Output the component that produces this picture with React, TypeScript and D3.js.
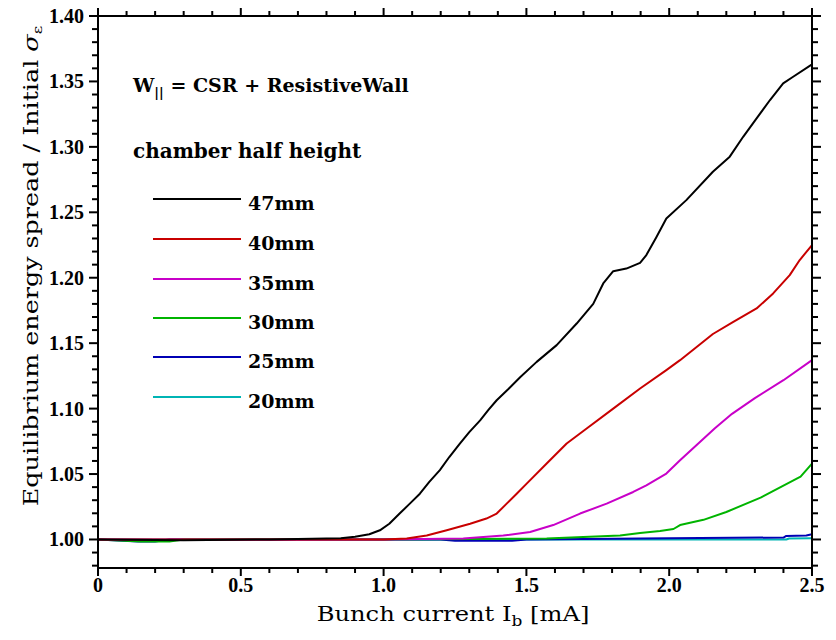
import React from "react";
import * as d3 from "d3";

// Bunch current [mA] vs. equilibrium / initial energy spread, one list per chamber half height
const h47: [number, number][] = [
  [0, 1.0], [0.3, 0.9995], [0.6, 1.0], [0.85, 1.001], [0.9, 1.002], [0.95, 1.004],
  [0.987, 1.007], [1.02, 1.012], [1.057, 1.02], [1.09, 1.027], [1.127, 1.035],
  [1.16, 1.044], [1.197, 1.053], [1.23, 1.063], [1.267, 1.0733], [1.3, 1.082],
  [1.338, 1.091], [1.367, 1.099], [1.396, 1.1064], [1.437, 1.115], [1.478, 1.124],
  [1.536, 1.1357], [1.606, 1.1485], [1.676, 1.165], [1.734, 1.18], [1.769, 1.1956],
  [1.804, 1.205], [1.85, 1.207], [1.898, 1.2114], [1.92, 1.2173], [1.955, 1.231],
  [1.99, 1.2453], [2.06, 1.2593], [2.153, 1.281], [2.212, 1.2925], [2.259, 1.3077],
  [2.306, 1.3218], [2.353, 1.3358], [2.399, 1.3485], [2.434, 1.3536], [2.5, 1.363],
];
const h40: [number, number][] = [
  [0, 1.0], [0.5, 1.0], [1.0, 1.0], [1.081, 1.0007], [1.151, 1.003], [1.221, 1.007],
  [1.303, 1.012], [1.36, 1.016], [1.396, 1.0198], [1.431, 1.0274], [1.466, 1.035],
  [1.501, 1.0427], [1.571, 1.058], [1.641, 1.0733], [1.711, 1.0848], [1.804, 1.1],
  [1.898, 1.1154], [1.99, 1.1294], [2.038, 1.137], [2.153, 1.157], [2.223, 1.166],
  [2.306, 1.1765], [2.364, 1.188], [2.422, 1.202], [2.457, 1.2135], [2.5, 1.225],
];
const h35: [number, number][] = [
  [0, 1.0], [0.6, 0.9998], [1.0, 1.0], [1.279, 1.0007], [1.419, 1.003], [1.513, 1.0057],
  [1.594, 1.011], [1.688, 1.0198], [1.781, 1.0274], [1.874, 1.0363], [1.92, 1.0414],
  [1.99, 1.0504], [2.038, 1.0605], [2.1, 1.073], [2.16, 1.085], [2.22, 1.096],
  [2.3, 1.108], [2.4, 1.1217], [2.5, 1.137],
];
const h30: [number, number][] = [
  [0, 1.0], [0.15, 0.9985], [0.25, 0.9985], [0.3, 1.0], [1.0, 1.0], [1.571, 1.0007],
  [1.828, 1.003], [1.898, 1.005], [1.968, 1.0065], [2.015, 1.008], [2.038, 1.011],
  [2.12, 1.015], [2.2, 1.021], [2.32, 1.032], [2.46, 1.048], [2.5, 1.058],
];
const h25: [number, number][] = [
  [0, 1.0], [0.14, 0.9985], [0.2, 0.9985], [0.25, 1.0], [1.2, 1.0], [1.25, 0.999],
  [1.45, 0.999], [1.5, 1.0], [2.0, 1.001], [2.4, 1.0015], [2.41, 1.0027],
  [2.48, 1.003], [2.5, 1.004],
];
const h20: [number, number][] = [
  [0, 1.0], [2.41, 1.0], [2.42, 1.0007], [2.5, 1.001],
];

const seriesNames = ["47mm", "40mm", "35mm", "30mm", "25mm", "20mm"];
const seriesData = [h47, h40, h35, h30, h25, h20];
const seriesColors = ["#000000", "#c80000", "#c800c8", "#00b400", "#0000b4", "#00b4b4"];

const xMajorTicks = [0, 0.5, 1.0, 1.5, 2.0, 2.5];
const xTickLabels = ["0", "0.5", "1.0", "1.5", "2.0", "2.5"];
const yMajorTicks = [1.0, 1.05, 1.1, 1.15, 1.2, 1.25, 1.3, 1.35, 1.4];
const yTickLabels = ["1.00", "1.05", "1.10", "1.15", "1.20", "1.25", "1.30", "1.35", "1.40"];

const W = 836;
const H = 640;
const left = 98;
const right = 812;
const top = 16;
const bottom = 568;

export default function App() {
  const x = d3.scaleLinear().domain([0, 2.5]).range([left, right]);
  const y = d3.scaleLinear().domain([0.9782, 1.4]).range([bottom, top]);

  const line = d3
    .line<[number, number]>()
    .x((d) => x(d[0]))
    .y((d) => y(d[1]));

  const xMinor = d3.range(0, 26).map((i) => i / 10);
  const yMinor = d3.range(98, 141).map((i) => i / 100);
  const isMajorX = (v: number) => Math.abs(v * 2 - Math.round(v * 2)) < 1e-6;
  const isMajorY = (v: number) => Math.abs(v * 20 - Math.round(v * 20)) < 1e-6;

  const tickFont = "'Liberation Serif', serif";
  const textFont = "'DejaVu Serif', serif";

  const legendRows = [199, 239, 279, 318, 357, 397];

  return (
    <svg
      width={W}
      height={H}
      style={{ position: "absolute", left: 0, top: 0, background: "#fff" }}
    >
      <rect x={0} y={0} width={W} height={H} fill="#fff" />

      {/* curves */}
      <g fill="none" strokeWidth={2} strokeLinejoin="round">
        {seriesData
          .map((d, i) => ({ d, i }))
          .reverse()
          .map(({ d, i }) => (
            <path key={seriesNames[i]} d={line(d) ?? ""} stroke={seriesColors[i]} />
          ))}
      </g>

      {/* frame */}
      <rect
        x={left}
        y={top}
        width={right - left}
        height={bottom - top}
        fill="none"
        stroke="#000"
        strokeWidth={2}
      />

      {/* ticks on all four sides, pointing outward */}
      <g stroke="#000" strokeWidth={2}>
        {xMinor.map((v) => {
          const len = isMajorX(v) ? 8 : 5;
          return (
            <g key={"xt" + v}>
              <line x1={x(v)} x2={x(v)} y1={bottom} y2={bottom + len} />
              <line x1={x(v)} x2={x(v)} y1={top} y2={top - len} />
            </g>
          );
        })}
        {yMinor.map((v) => {
          const len = isMajorY(v) ? 9 : 6;
          return (
            <g key={"yt" + v}>
              <line x1={left} x2={left - len} y1={y(v)} y2={y(v)} />
              <line x1={right} x2={right + len} y1={y(v)} y2={y(v)} />
            </g>
          );
        })}
      </g>

      {/* tick labels */}
      <g fontFamily={tickFont} fontWeight="bold" fontSize={20} fill="#000">
        {xMajorTicks.map((v, i) => (
          <text key={"xl" + v} x={x(v)} y={592} textAnchor="middle">
            {xTickLabels[i]}
          </text>
        ))}
        {yMajorTicks.map((v, i) => (
          <text key={"yl" + v} x={84} y={y(v)} dy="0.35em" textAnchor="end">
            {yTickLabels[i]}
          </text>
        ))}
      </g>

      {/* axis titles (wide lettering: stretched along the text direction) */}
      <text
        transform="translate(453,621) scale(1.21,1)"
        textAnchor="middle"
        fontFamily={textFont}
        fontSize={20}
        fill="#000"
      >
        Bunch current{"  "}I
        <tspan fontSize={14} dy={5}>b</tspan>
        <tspan dy={-5}> [mA]</tspan>
      </text>
      <text
        transform="translate(38,266) rotate(-90) scale(1.27,1)"
        textAnchor="middle"
        fontFamily={textFont}
        fontSize={20}
        fill="#000"
      >
        Equilibrium energy spread / Initial <tspan fontStyle="italic">σ</tspan>
        <tspan fontSize={13} dy={4}>ε</tspan>
      </text>

      {/* annotations and legend */}
      <g fontFamily={textFont} fontWeight="bold" fill="#000">
        <text x={133} y={92} fontSize={19}>
          W<tspan fontSize={13} dy={5}>||</tspan>
          <tspan dy={-5}> = CSR + ResistiveWall</tspan>
        </text>
        <text x={133} y={158} fontSize={20}>
          chamber half height
        </text>
        {seriesNames.map((name, i) => (
          <g key={name}>
            <line
              x1={153}
              x2={241}
              y1={legendRows[i]}
              y2={legendRows[i]}
              stroke={seriesColors[i]}
              strokeWidth={2}
            />
            <text x={248} y={legendRows[i] + 11} fontSize={19}>
              {name}
            </text>
          </g>
        ))}
      </g>
    </svg>
  );
}
